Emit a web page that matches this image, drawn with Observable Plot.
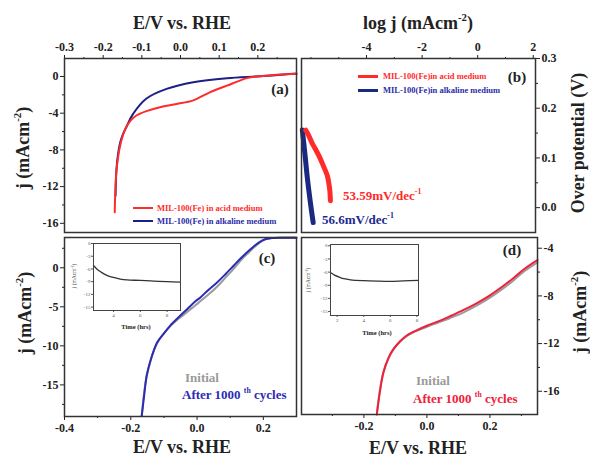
<!DOCTYPE html>
<html><head><meta charset="utf-8">
<script src="https://cdn.jsdelivr.net/npm/d3@7"></script>
<script src="https://cdn.jsdelivr.net/npm/@observablehq/plot@0.6"></script>
<style>
body{margin:0;background:#fff;}
#chart{position:relative;width:590px;height:459px;background:#fff;overflow:hidden;font-family:'Liberation Serif','Times New Roman',serif;font-weight:bold;}
.t{position:absolute;white-space:nowrap;line-height:1;}
.t sup{font-size:0.6em;line-height:0;vertical-align:0.7em;}
.lg{position:absolute;height:0;}
</style>
</head><body>
<div id="chart"></div>
<script>
// ---------- Panel (a): polarization curves ----------
const aAcidE = [-0.170,-0.169,-0.166,-0.162,-0.158,-0.149,-0.140,-0.128,-0.114,-0.090,-0.053,-0.010,0.033,0.077,0.120,0.150,0.172,0.200,0.240,0.294,0.300];
const aAcidJ = [-14.8,-13.0,-10.4,-9.0,-7.9,-6.4,-5.5,-4.75,-4.25,-3.8,-3.35,-3.0,-2.6,-1.7,-1.0,-0.5,-0.18,0.02,0.15,0.29,0.29];
const aAlkE = [-0.168,-0.166,-0.162,-0.156,-0.149,-0.140,-0.123,-0.088,-0.036,0.033,0.120,0.207,0.294,0.300];
const aAlkJ = [-13.0,-10.4,-8.6,-7.2,-6.3,-5.5,-4.1,-2.4,-1.35,-0.62,-0.18,0.03,0.29,0.29];
// ---------- Panel (b): Tafel ----------
const bAcidLogJ = [-6.19,-6.08,-5.96,-5.84,-5.72,-5.56,-5.41,-5.36,-5.32,-5.30];
const bAcidEta  = [0.156,0.145,0.130,0.118,0.105,0.085,0.064,0.050,0.034,0.014];
const bAlkLogJ = [-6.31,-6.22,-6.13,-6.02,-5.92];
const bAlkEta  = [0.156,0.110,0.060,0.010,-0.030];
// ---------- Panel (c): alkaline stability ----------
const cAfterE = [-0.167,-0.160,-0.152,-0.142,-0.121,-0.100,-0.081,-0.055,-0.030,-0.005,0.010,0.035,0.061,0.085,0.111,0.135,0.162,0.185,0.205,0.225,0.250,0.300];
const cAfterJ = [-19.0,-16.5,-13.8,-12.1,-9.6,-8.4,-7.4,-6.3,-5.3,-4.3,-3.8,-2.8,-1.85,-0.85,0.3,1.35,2.4,3.2,3.65,3.8,3.85,3.85];
const cInitE = [-0.167,-0.152,-0.121,-0.081,-0.040,-0.005,0.035,0.061,0.085,0.111,0.135,0.162,0.185,0.205,0.225,0.300];
const cInitJ = [-19.0,-13.9,-9.7,-7.5,-6.0,-4.8,-3.4,-2.4,-1.3,-0.1,1.1,2.2,3.1,3.6,3.8,3.85];
const cInsetT = [2.5,2.75,3.0,3.25,3.5,3.75,4.0,4.5,5.0,6.0,7.0,8.0,9.0];
const cInsetJ = [-5.2,-6.0,-6.6,-7.1,-7.5,-7.8,-8.0,-8.4,-8.6,-8.7,-8.85,-9.0,-9.1];
// ---------- Panel (d): acid stability ----------
const dAfterE = [-0.159,-0.150,-0.138,-0.122,-0.106,-0.085,-0.063,-0.030,0.000,0.040,0.074,0.115,0.159,0.200,0.243,0.275,0.306,0.330,0.351];
const dAfterJ = [-17.95,-16.2,-14.4,-13.2,-12.45,-11.8,-11.3,-10.85,-10.5,-10.1,-9.7,-9.2,-8.6,-7.95,-7.15,-6.5,-5.8,-5.35,-5.0];
const dInitE = [-0.159,-0.138,-0.106,-0.063,0.000,0.074,0.115,0.159,0.200,0.243,0.275,0.306,0.351];
const dInitJ = [-17.95,-14.45,-12.5,-11.35,-10.6,-9.85,-9.4,-8.8,-8.15,-7.35,-6.7,-6.0,-5.2];
const dInsetT = [1.5,1.8,2.2,2.5,3.0,4.0,5.0,6.0,7.0,8.12];
const dInsetJ = [-6.1,-6.7,-7.2,-7.5,-7.75,-7.95,-8.05,-8.1,-8.0,-7.9];
// ---------- ticks ----------
const aXTicks = [-0.3,-0.2,-0.1,0,0.1,0.2], aXMinor = [-0.25,-0.15,-0.05,0.05,0.15,0.25];
const aYTicks = [0,-4,-8,-12,-16], aYMinor = [-2,-6,-10,-14];
const bXTicks = [-4,-2,0,2], bXMinor = [-6,-5,-3,-1,1];
const bYTicks = [0,0.1,0.2,0.3], bYMinor = [0.05,0.15,0.25];
const cXTicks = [-0.4,-0.2,0,0.2], cXMinor = [-0.3,-0.1,0.1];
const cYTicks = [0,-5,-10,-15], cYMinor = [2.5,-2.5,-7.5,-12.5,-17.5];
const dXTicks = [-0.2,0,0.2], dXMinor = [-0.3,-0.1,0.1,0.3];
const dYTicks = [-4,-8,-12,-16], dYMinor = [-6,-10,-14];
const insetCXTicks = [4,6,8], insetDXTicks = [2,4,6,8], insetYTicks = [0,-3,-6,-9,-12,-15];

const W = 590, H = 459;
const root = document.getElementById("chart");
const rows = (xs, ys) => xs.map((x, i) => ({x, y: ys[i]}));

function panel({frame, x, y, marks = [], font = 12, weight = "bold", color = "#222", frameStyle = {stroke: "#333", strokeWidth: 1.5}}) {
  const [l, t, r, b] = frame;
  const svg = Plot.plot({
    width: W, height: H,
    marginLeft: l, marginTop: t, marginRight: W - r, marginBottom: H - b,
    x: {label: null, ...x},
    y: {label: null, ...y},
    style: {position: "absolute", left: "0px", top: "0px", background: "transparent", overflow: "visible",
            fontFamily: "'Liberation Serif','Times New Roman',serif", fontWeight: weight, fontSize: font + "px", color},
    marks: [...marks, ...(frameStyle ? [Plot.frame(frameStyle)] : [])]
  });
  root.appendChild(svg);
}
const f1 = d => d.toFixed(1);
const fi = d => String(d);
const blank = () => "";

function txt(html, x, y, {size = 18, color = "#222", rotate = 0, align = "center", weight = "bold"} = {}) {
  const d = document.createElement("div");
  d.className = "t";
  d.innerHTML = html;
  d.style.left = x + "px"; d.style.top = y + "px";
  d.style.fontSize = size + "px"; d.style.color = color; d.style.fontWeight = weight;
  const tx = align === "center" ? "-50%" : "0";
  d.style.transform = `translate(${tx},-50%) rotate(${rotate}deg)`;
  if (align !== "center") d.style.transformOrigin = "0 50%";
  root.appendChild(d);
}
function legLine(x1, x2, y, color, w) {
  const d = document.createElement("div");
  d.className = "lg";
  d.style.left = x1 + "px"; d.style.width = (x2 - x1) + "px";
  d.style.top = (y - w / 2) + "px"; d.style.height = w + "px"; d.style.background = color;
  root.appendChild(d);
}

const RED = "#ff2b2b", NAVY = "#1c1f86", BLUE = "#2b2bb5", GRAY = "#9a9a9a", DRED = "#f0203a";

// ===== Panel (a)
const aFrame = [64, 58, 296, 232];
const aX = {domain: [-0.3, 0.3], axis: "top"}, aY = {domain: [-17, 1.96], axis: "left"};
panel({frame: aFrame, x: {...aX, ticks: aXMinor, tickSize: 2, tickFormat: blank}, y: {...aY, ticks: aYMinor, tickSize: 2, tickFormat: blank}, frameStyle: null});
panel({frame: aFrame,
  x: {...aX, ticks: aXTicks, tickSize: 4, tickPadding: 4, tickFormat: f1},
  y: {...aY, ticks: aYTicks, tickSize: 4, tickPadding: 2, tickFormat: fi},
  marks: [
    Plot.line(rows(aAlkE, aAlkJ), {x: "x", y: "y", stroke: NAVY, strokeWidth: 2, curve: "catmull-rom"}),
    Plot.line(rows(aAcidE, aAcidJ), {x: "x", y: "y", stroke: RED, strokeWidth: 2, curve: "catmull-rom"})
  ]});

// ===== Panel (b)
const bFrame = [301, 58, 535, 232];
const bX = {domain: [-6.34, 2.08], axis: "top"}, bY = {domain: [-0.05, 0.3], axis: "right"};
panel({frame: bFrame, x: {...bX, ticks: bXMinor, tickSize: 2, tickFormat: blank}, y: {...bY, ticks: bYMinor, tickSize: 2, tickFormat: blank}, frameStyle: null});
panel({frame: bFrame,
  x: {...bX, ticks: bXTicks, tickSize: 4, tickPadding: 4, tickFormat: fi},
  y: {...bY, ticks: bYTicks, tickSize: 4, tickPadding: 2, tickFormat: f1},
  marks: [
    Plot.line(rows(bAlkLogJ, bAlkEta), {x: "x", y: "y", stroke: "#1a2a80", strokeWidth: 5, strokeLinecap: "round", curve: "catmull-rom"}),
    Plot.line(rows(bAcidLogJ, bAcidEta), {x: "x", y: "y", stroke: RED, strokeWidth: 5, strokeLinecap: "round", strokeLinejoin: "round", curve: "catmull-rom"})
  ]});

// ===== Panel (c)
const cFrame = [64, 237, 296, 416];
const cX = {domain: [-0.4, 0.3], axis: "bottom"}, cY = {domain: [-19.05, 3.88], axis: "left"};
panel({frame: cFrame, x: {...cX, ticks: cXMinor, tickSize: 2, tickFormat: blank}, y: {...cY, ticks: cYMinor, tickSize: 2, tickFormat: blank}, frameStyle: null});
panel({frame: cFrame,
  x: {...cX, ticks: cXTicks, tickSize: 4, tickPadding: 3, tickFormat: f1},
  y: {...cY, ticks: cYTicks, tickSize: 4, tickPadding: 2, tickFormat: fi},
  marks: [
    Plot.line(rows(cInitE, cInitJ), {x: "x", y: "y", stroke: GRAY, strokeWidth: 2, curve: "catmull-rom"}),
    Plot.line(rows(cAfterE, cAfterJ), {x: "x", y: "y", stroke: BLUE, strokeWidth: 2, curve: "catmull-rom"})
  ]});
panel({frame: [93, 243, 180, 310], font: 5, weight: "normal", color: "#555",
  x: {domain: [2.5, 9], axis: "bottom", ticks: insetCXTicks, tickSize: 2, tickPadding: 1, tickFormat: fi},
  y: {domain: [-15.8, 0], axis: "left", ticks: insetYTicks, tickSize: 2, tickPadding: 1, tickFormat: fi},
  frameStyle: {stroke: "#444", strokeWidth: 1},
  marks: [Plot.line(rows(cInsetT, cInsetJ), {x: "x", y: "y", stroke: "#333", strokeWidth: 1.3, curve: "catmull-rom"})]});

// ===== Panel (d)
const dFrame = [301, 237, 537, 414];
const dX = {domain: [-0.398, 0.351], axis: "bottom"}, dY = {domain: [-17.95, -3.1], axis: "right"};
panel({frame: dFrame, x: {...dX, ticks: dXMinor, tickSize: 2, tickFormat: blank}, y: {...dY, ticks: dYMinor, tickSize: 2, tickFormat: blank}, frameStyle: null});
panel({frame: dFrame,
  x: {...dX, ticks: dXTicks, tickSize: 4, tickPadding: 3, tickFormat: f1},
  y: {...dY, ticks: dYTicks, tickSize: 4, tickPadding: 2, tickFormat: fi},
  marks: [
    Plot.line(rows(dInitE, dInitJ), {x: "x", y: "y", stroke: GRAY, strokeWidth: 2, curve: "catmull-rom"}),
    Plot.line(rows(dAfterE, dAfterJ), {x: "x", y: "y", stroke: DRED, strokeWidth: 2, curve: "catmull-rom"})
  ]});
panel({frame: [330, 244, 418, 315], font: 5, weight: "normal", color: "#555",
  x: {domain: [1.5, 8.12], axis: "bottom", ticks: insetDXTicks, tickSize: 2, tickPadding: 1, tickFormat: fi},
  y: {domain: [-15.9, 0.3], axis: "left", ticks: insetYTicks, tickSize: 2, tickPadding: 1, tickFormat: fi},
  frameStyle: {stroke: "#444", strokeWidth: 1},
  marks: [Plot.line(rows(dInsetT, dInsetJ), {x: "x", y: "y", stroke: "#333", strokeWidth: 1.3, curve: "catmull-rom"})]});

// ===== Text
txt("E/V vs. RHE", 182, 23);
txt("log j (mAcm<sup>-2</sup>)", 418, 23);
txt("j (mAcm<sup>-2</sup>)", 23, 148, {rotate: -90});
txt("j (mAcm<sup>-2</sup>)", 25, 313, {rotate: -90});
txt("Over potential (V)", 578, 143, {rotate: -90});
txt("j (mAcm<sup>-2</sup>)", 580, 312, {rotate: -90});
txt("E/V vs. RHE", 182, 447);
txt("E/V vs. RHE", 418, 448);
txt("(a)", 280, 89, {size: 15});
txt("(b)", 517, 77, {size: 15});
txt("(c)", 267, 258, {size: 15});
txt("(d)", 512, 250, {size: 15});
legLine(133, 153, 208, RED, 2.5);
txt("MIL-100(Fe) in acid medium", 157, 208, {size: 8.5, color: RED, align: "left"});
legLine(133, 153, 221, NAVY, 2.5);
txt("MIL-100(Fe) in alkaline medium", 157, 221, {size: 8.5, color: "#2b2ba8", align: "left"});
legLine(358, 378, 76, RED, 3);
txt("MIL-100(Fe)in acid medium", 383, 76, {size: 8.5, color: RED, align: "left"});
legLine(358, 378, 90, "#1a2a80", 3);
txt("MIL-100(Fe)in alkaline medium", 383, 90, {size: 8.5, color: "#2b2ba8", align: "left"});
txt("53.59mV/dec<sup>-1</sup>", 343, 195, {size: 13, color: RED, align: "left"});
txt("56.6mV/dec<sup>-1</sup>", 322, 219, {size: 13, color: "#1a2a90", align: "left"});
txt("Initial", 185, 377, {size: 13, color: GRAY, align: "left"});
txt("After 1000 <sup>th</sup> cycles", 182, 394, {size: 13, color: BLUE, align: "left"});
txt("Initial", 416, 380, {size: 13, color: GRAY, align: "left"});
txt("After 1000 <sup>th</sup> cycles", 413, 398, {size: 13, color: DRED, align: "left"});
txt("Time (hrs)", 136, 327, {size: 6.5});
txt("Time (hrs)", 377, 333, {size: 6.5});
txt("j (mAcm<sup>-2</sup>)", 75, 276, {size: 5.5, rotate: -90, weight: "normal", color: "#444"});
txt("j (mAcm<sup>-2</sup>)", 309, 280, {size: 5.5, rotate: -90, weight: "normal", color: "#444"});
</script>
</body></html>
